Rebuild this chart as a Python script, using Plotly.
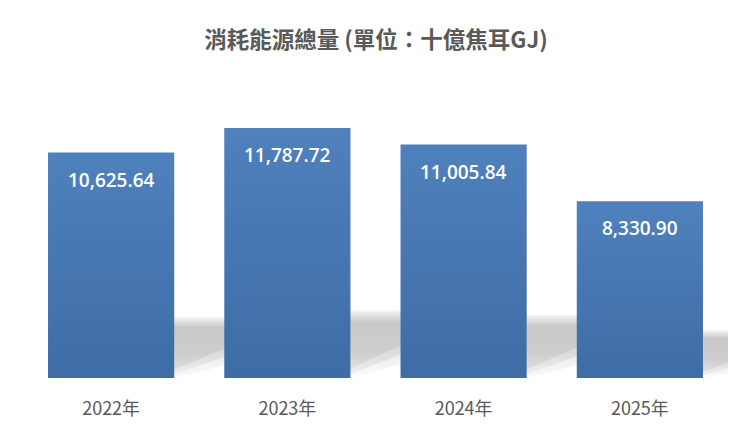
import plotly.graph_objects as go

# data
years = ["2022年", "2023年", "2024年", "2025年"]
energy_gj = [10625.64, 11787.72, 11005.84, 8330.90]
value_labels = ["10,625.64", "11,787.72", "11,005.84", "8,330.90"]

BAR_HALF = 0.358     # half of bar width in category units
SHADOW_W = 0.30      # how far the shadow reaches to the right
SHADOW_H = 0.27      # shadow height as a share of the bar value

fig = go.Figure()

# soft grey shadows behind the bars (drawn first so bars cover them)
# faint outer layers + darker inner layer to soften the diagonal edge
shadow_layers = [
    (0.00, 0.22, [[0, "#fafafa"], [0.4, "#ececec"], [0.85, "#e4e4e4"], [1, "#ffffff"]]),
    (0.06, 0.36, [[0, "#eeeeee"], [0.35, "#dcdcdc"], [0.85, "#d6d6d6"], [1, "#fcfcfc"]]),
    (0.14, 0.50, [[0, "#dedede"], [0.3, "#cdcdcd"], [0.8, "#c9c9c9"], [1, "#f4f4f4"]]),
]
for lo_left, lo_right, cs in shadow_layers:
    for i, v in enumerate(energy_gj):
        xr = i + BAR_HALF
        h = v * SHADOW_H
        fig.add_trace(go.Scatter(
            x=[xr, xr + SHADOW_W, xr + SHADOW_W, xr, xr],
            y=[h * lo_left, h * lo_right, h, h, h * lo_left],
            mode="lines", line=dict(width=0),
            fill="toself",
            fillgradient=dict(type="vertical", colorscale=cs),
            hoverinfo="skip", showlegend=False,
        ))

# the bars, with a light-to-dark vertical gradient
for i, v in enumerate(energy_gj):
    xl, xr = i - BAR_HALF, i + BAR_HALF
    fig.add_trace(go.Scatter(
        x=[xl, xr, xr, xl, xl],
        y=[0, 0, v, v, 0],
        mode="lines", line=dict(width=0),
        fill="toself",
        fillgradient=dict(type="vertical",
                          colorscale=[[0, "#3e6ca5"], [1, "#4f81bd"]]),
        hovertemplate=f"{years[i]}: {value_labels[i]}<extra></extra>",
        showlegend=False,
    ))

# value labels inside the top of each bar
for i, v in enumerate(energy_gj):
    fig.add_annotation(
        x=i, y=v, text=value_labels[i], showarrow=False,
        yanchor="middle", yshift=-27,
        font=dict(family="Open Sans, Noto Sans, sans-serif", size=19,
                  color="white", weight=600),
    )

# page body has an 8px margin, so the figure is shifted by 8px
fig.update_layout(
    width=736, height=423,
    margin=dict(l=15, r=16, t=73, b=53),
    paper_bgcolor="white", plot_bgcolor="white",
    title=dict(text="消耗能源總量 (單位：十億焦耳GJ)",
               x=0.5, xanchor="center", y=0.925, yanchor="middle",
               font=dict(family="Noto Sans CJK TC, sans-serif", size=22.5,
                         color="#595959", weight="bold")),
    xaxis=dict(range=[-0.5, 3.5], tickvals=list(range(len(years))), ticktext=years,
               showgrid=False, zeroline=False, showline=False, ticks="",
               ticklabelstandoff=18,
               tickfont=dict(family="Noto Sans CJK TC, sans-serif", size=18,
                             color="#595959")),
    yaxis=dict(range=[0, 14000], visible=False, showgrid=False, zeroline=False),
)

fig.write_html("out.html")
